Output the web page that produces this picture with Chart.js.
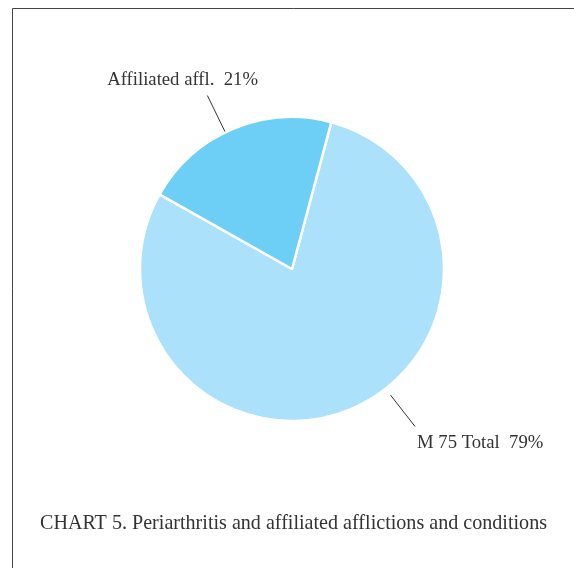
<!DOCTYPE html>
<html>
<head>
<meta charset="utf-8">
<script src="https://cdn.jsdelivr.net/npm/chart.js@4.4.0/dist/chart.umd.min.js"></script>
<style>
  html, body { margin: 0; padding: 0; background: #fff; }
  #wrap { width: 574px; height: 568px; position: relative; }
</style>
</head>
<body>
<div id="wrap"><canvas id="pieChart" width="574" height="568"></canvas></div>
<script>
// data
const categories = ['M 75 Total', 'Affiliated affl.'];
const shares = [79, 21];
const sliceColors = ['#abe1fa', '#6dcff6'];
const captionText = 'CHART 5. Periarthritis and affiliated afflictions and conditions';

// leader line angle (deg from top, clockwise), inner/outer radius, text anchor
const leaders = [
    { angle: 142, r0: 160, r1: 200, tx: 417, ty: 443, align: 'left' },
    { angle: 334, r0: 153, r1: 193, tx: 258, ty: 80, align: 'right' }
];

const serif = '"Liberation Serif", "DejaVu Serif", serif';

const decorPlugin = {
    id: 'decor',
    beforeDraw(chart) {
        const ctx = chart.ctx;
        ctx.save();
        ctx.strokeStyle = '#444';
        ctx.lineWidth = 1;
        ctx.beginPath();
        ctx.moveTo(12.5, 568);
        ctx.lineTo(12.5, 8.5);
        ctx.lineTo(574, 8.5);
        ctx.stroke();
        ctx.restore();
    },
    afterDraw(chart) {
        const ctx = chart.ctx;
        const arc = chart.getDatasetMeta(0).data[0];
        const cx = arc.x, cy = arc.y;
        ctx.save();
        ctx.strokeStyle = '#333';
        ctx.lineWidth = 1;
        ctx.fillStyle = '#333';
        ctx.font = '18.7px ' + serif;
        ctx.textBaseline = 'middle';
        leaders.forEach(function(l, i) {
            const a = l.angle * Math.PI / 180;
            const dx = Math.sin(a), dy = -Math.cos(a);
            ctx.beginPath();
            ctx.moveTo(cx + dx * l.r0, cy + dy * l.r0);
            ctx.lineTo(cx + dx * l.r1, cy + dy * l.r1);
            ctx.stroke();
            ctx.textAlign = l.align;
            ctx.fillText(categories[i] + '  ' + shares[i] + '%', l.tx, l.ty);
        });
        ctx.font = '20.1px ' + serif;
        ctx.textAlign = 'left';
        ctx.fillText(captionText, 40, 524);
        ctx.restore();
    }
};

new Chart(document.getElementById('pieChart').getContext('2d'), {
    type: 'pie',
    data: {
        labels: categories,
        datasets: [{
            data: shares,
            backgroundColor: sliceColors,
            borderColor: '#ffffff',
            borderWidth: 2.5
        }]
    },
    options: {
        responsive: false,
        animation: false,
        rotation: 15,
        radius: 152,
        layout: { padding: { left: 100, right: 90, top: 80, bottom: 110 } },
        plugins: {
            legend: { display: false },
            tooltip: { enabled: false }
        }
    },
    plugins: [decorPlugin]
});
</script>
</body>
</html>
